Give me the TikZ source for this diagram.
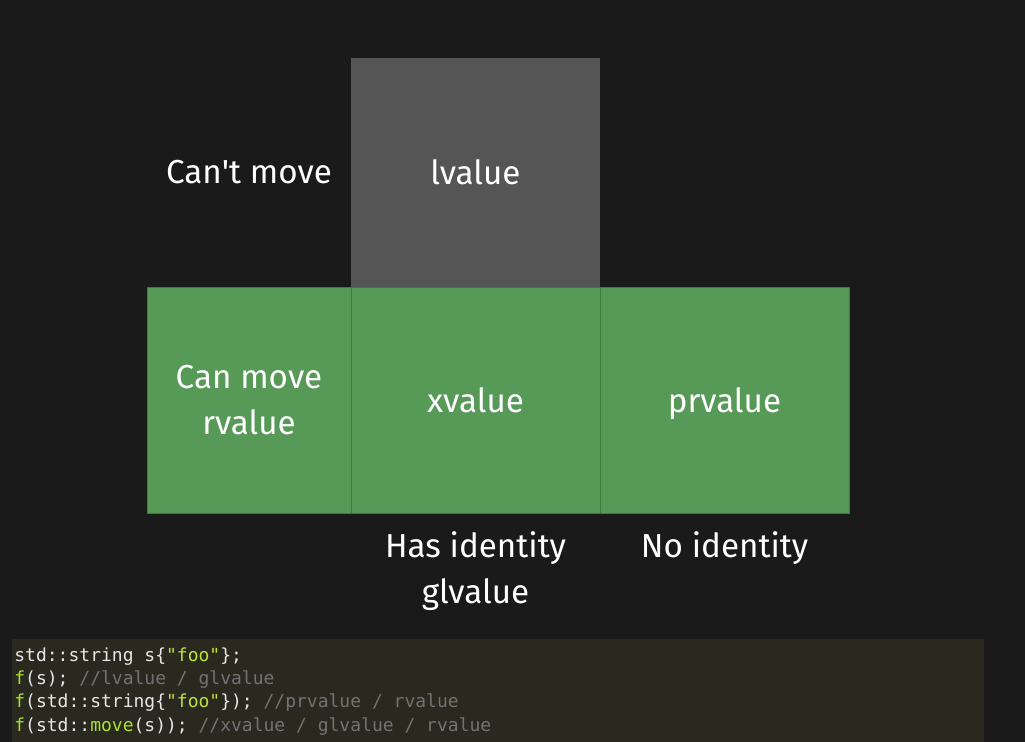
\documentclass[tikz,border=0pt]{standalone}
\usepackage{fontspec}
\setmainfont{Fira Sans}
\setmonofont{DejaVu Sans Mono}

\definecolor{bgdark}{HTML}{1A1A1A}
\definecolor{lgray}{HTML}{555555}
\definecolor{vgreen}{HTML}{579A57}
\definecolor{vgreenline}{HTML}{3E7A3E}
\definecolor{codebg}{HTML}{29291F}
\definecolor{codetext}{HTML}{E6E6E6}
\definecolor{codefn}{HTML}{A6E22E}
\definecolor{codestr}{HTML}{BFE03A}
\definecolor{codecmt}{HTML}{727272}

\newcommand{\cfn}[1]{\textcolor{codefn}{#1}}
\newcommand{\cstr}[1]{\textcolor{codestr}{#1}}
\newcommand{\ccmt}[1]{\textcolor{codecmt}{#1}}

\tikzset{
  cell/.style={inner sep=0pt, outer sep=0pt, align=center, text=white,
    font=\fontsize{16.6}{23}\selectfont},
  graycell/.style={cell, fill=lgray, minimum width=124.5pt, minimum height=114.5pt},
  greencell/.style={cell, fill=vgreen, draw=vgreenline, line width=0.4pt,
    minimum height=113pt},
  label/.style={text=white, align=center, inner sep=0pt,
    font=\fontsize{16.6}{23}\selectfont},
}

\begin{document}
\begin{tikzpicture}[x=0.5pt,y=-0.5pt]
  \fill[bgdark] (0,0) rectangle (1025,742);
  \useasboundingbox (0,0) rectangle (1025,742);

  % top row
  \node[graycell] (lval) at (475.5,172.5) {lvalue};
  \node[label] (cantmove) at (249,172) {Can\textquotesingle t move};

  % bottom row
  \node[greencell, minimum width=102pt] (rval) at (249,400) {Can move\\rvalue};
  \node[greencell, minimum width=124.5pt] (xval) at (475.5,400) {xvalue};
  \node[greencell, minimum width=124.5pt, text depth=0pt] (prval) at (724.5,400) {prvalue};

  % labels below
  \node[label, anchor=north] (hasid) at (475.5,531) {Has identity\\glvalue};
  \node[label, anchor=north] (noid) at (724.5,531) {No identity};

  % code
  \fill[codebg] (12,639) rectangle (984,742);
  \node[anchor=north west, align=left, inner sep=0pt, text=codetext,
    font=\ttfamily\fontsize{9}{11.7}\selectfont] (code) at (14,647)
  {std::string s\{\cstr{"foo"}\};\\
   \cfn{f}(s); \ccmt{//lvalue / glvalue}\\
   \cfn{f}(std::string\{\cstr{"foo"}\}); \ccmt{//prvalue / rvalue}\\
   \cfn{f}(std::\cfn{move}(s)); \ccmt{//xvalue / glvalue / rvalue}};
\end{tikzpicture}
\end{document}
